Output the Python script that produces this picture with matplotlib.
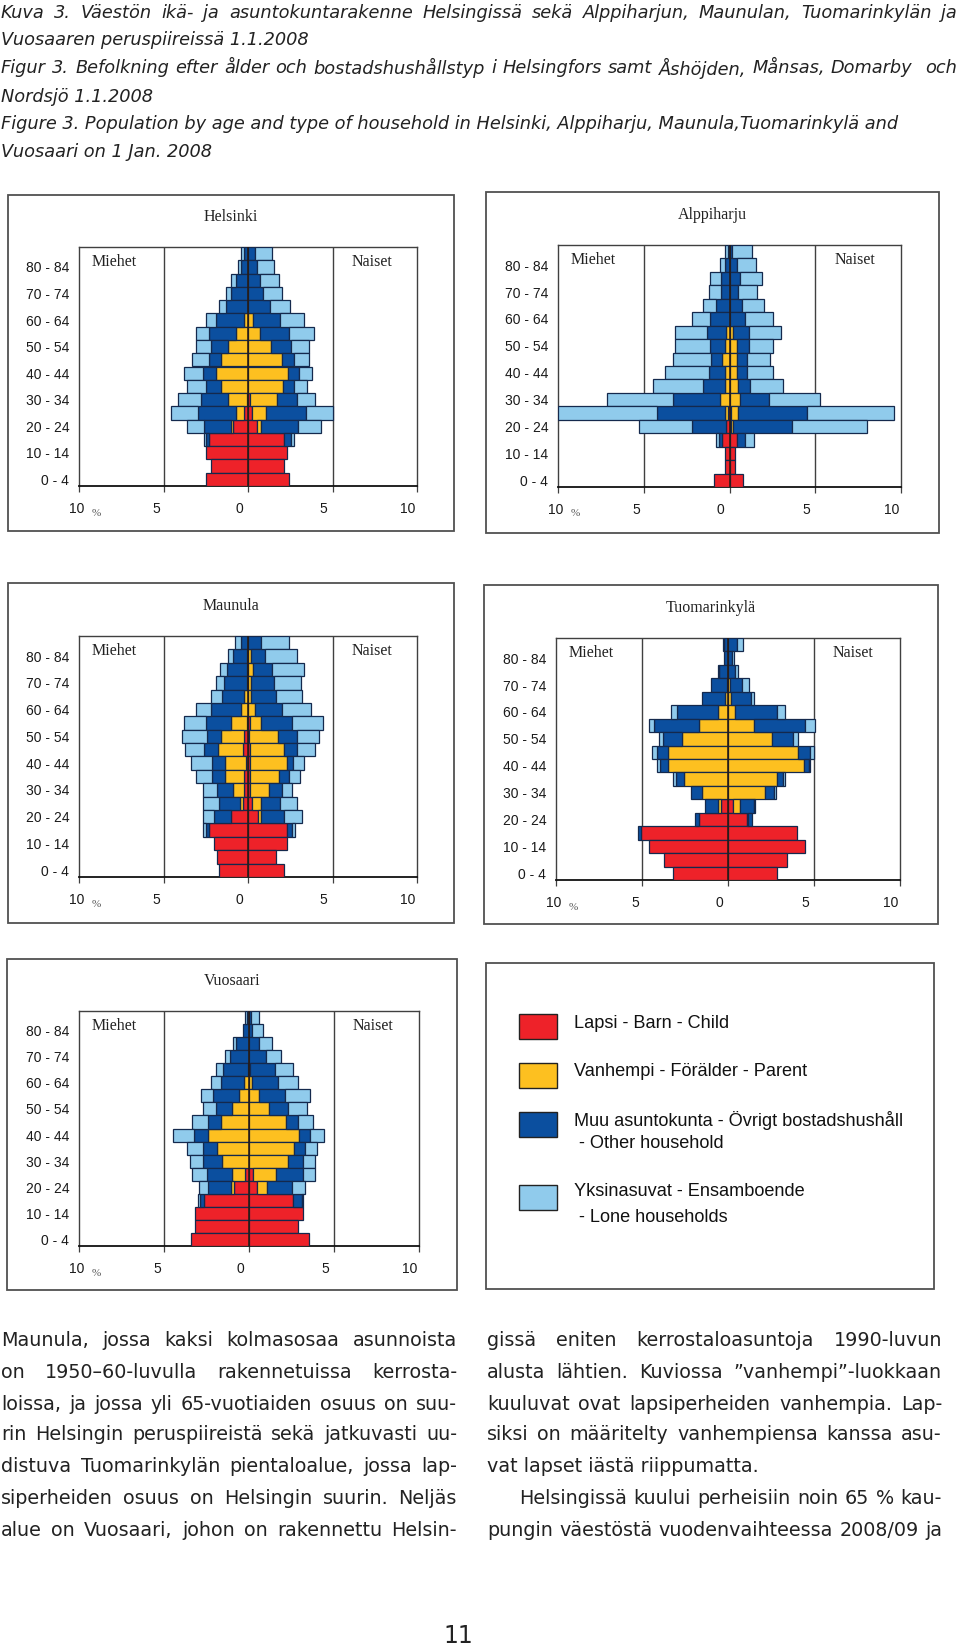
import numpy as np
import matplotlib
matplotlib.use('Agg')
import matplotlib.pyplot as plt
from matplotlib.patches import Rectangle

# age groups from top row to bottom row, only every other one is labelled
ages = ['85 -', '80 - 84', '75 - 79', '70 - 74', '65 - 69', '60 - 64', '55 - 59', '50 - 54', '45 - 49',
        '40 - 44', '35 - 39', '30 - 34', '25 - 29', '20 - 24', '15 - 19', '10 - 14', '5 - 9', '0 - 4']
age_shown = ['80 - 84', '70 - 74', '60 - 64', '50 - 54', '40 - 44', '30 - 34', '20 - 24', '10 - 14', '0 - 4']
x_ticks = [-10, -5, 0, 5, 10]
# tick labels in the original sit a bit left of the ticks
tick_shift = [-2, -7, -9, -9, -9]

household = ['Lapsi - Barn - Child', 'Vanhempi - Förälder - Parent',
             'Muu asuntokunta - Övrigt bostadshushåll\n - Other household',
             'Yksinasuvat - Ensamboende\n - Lone households']
colors = ['#ee2229', '#fdc020', '#0b4f9f', '#90cbec']

# running totals in % from the centre outwards: child, +parent, +other, +lone
hel_m_child = [0, 0, 0, 0, 0, 0, 0, 0, 0, 0, 0, .08, .22, .89, 2.29, 2.49, 2.17, 2.49]
hel_m_parent = [0, 0, 0, 0, 0, .26, .71, 1.21, 1.58, 1.88, 1.58, 1.21, .71, 1.01, 2.29, 2.49, 2.17, 2.49]
hel_m_other = [.22, .43, .71, 1.03, 1.30, 1.90, 2.31, 2.19, 2.31, 2.69, 2.49, 2.81, 2.98, 2.61, 2.49, 2.49, 2.17, 2.49]
hel_m_lone = [.43, .59, .99, 1.28, 1.70, 2.49, 3.10, 3.10, 3.32, 3.77, 3.62, 4.13, 4.58, 3.62, 2.61, 2.49, 2.17, 2.49]
hel_f_child = [0, 0, 0, 0, 0, 0, 0, 0, 0, 0, 0, .12, .24, .51, 2.11, 2.31, 2.11, 2.41]
hel_f_parent = [0, 0, 0, 0, 0, .28, .71, 1.38, 2.02, 2.39, 2.09, 1.70, 1.09, .79, 2.11, 2.31, 2.11, 2.41]
hel_f_other = [.41, .51, .71, .87, 1.30, 1.90, 2.41, 2.53, 2.71, 3.00, 2.71, 2.91, 3.42, 2.98, 2.55, 2.31, 2.11, 2.41]
hel_f_lone = [1.40, 1.52, 1.82, 2.02, 2.51, 3.32, 3.89, 3.60, 3.60, 3.79, 3.48, 3.99, 5.00, 4.31, 2.71, 2.31, 2.11, 2.41]

alp_m_child = [0, 0, 0, 0, 0, 0, 0, 0, 0, 0, 0, 0, .08, .21, .41, .29, .29, .89]
alp_m_parent = [0, 0, 0, 0, 0, 0, .19, .29, .41, .29, .29, .54, .29, .21, .41, .29, .29, .89]
alp_m_other = [.08, .29, .50, .50, .81, 1.11, 1.30, 1.11, 1.05, 1.20, 1.57, 3.32, 4.21, 2.19, .60, .29, .29, .89]
alp_m_lone = [.29, .58, 1.11, 1.20, 1.57, 2.21, 3.16, 3.16, 3.32, 3.78, 4.48, 7.16, 9.99, 5.28, .81, .29, .29, .89]
alp_f_child = [0, 0, 0, 0, 0, 0, 0, 0, 0, 0, 0, 0, .08, .08, .41, .31, .31, .81]
alp_f_parent = [0, 0, 0, 0, 0, 0, .21, .41, .41, .41, .52, .60, .52, .21, .41, .31, .31, .81]
alp_f_other = [.12, .43, .60, .52, .72, .89, 1.11, 1.11, 1.01, 1.01, 1.22, 2.33, 4.50, 3.63, .89, .31, .31, .81]
alp_f_lone = [1.30, 1.53, 1.88, 1.59, 2.04, 2.52, 2.99, 2.52, 2.39, 2.52, 3.12, 5.30, 9.60, 7.99, 1.40, .31, .31, .81]

mau_m_child = [0, 0, 0, 0, 0, 0, .06, .22, .30, .10, .22, .22, .30, .99, 2.29, 2.04, 1.82, 1.70]
mau_m_parent = [0, .08, .06, .08, .22, .42, 1.01, 1.60, 1.80, 1.38, 1.36, .87, .47, .99, 2.29, 2.04, 1.82, 1.70]
mau_m_other = [.43, .91, 1.25, 1.40, 1.52, 2.19, 2.49, 2.41, 2.63, 2.11, 2.11, 1.82, 1.70, 2.02, 2.49, 2.04, 1.82, 1.70]
mau_m_lone = [.75, 1.21, 1.64, 1.90, 2.19, 3.10, 3.79, 3.91, 3.72, 3.40, 3.10, 2.69, 2.69, 2.69, 2.65, 2.04, 1.82, 1.70]
mau_f_child = [0, 0, 0, 0, 0, 0, .10, .04, .10, .10, .10, .10, .22, .57, 2.29, 2.29, 1.68, 2.11]
mau_f_parent = [0, .20, .28, .20, .20, .40, .79, 1.78, 2.15, 2.29, 1.86, 1.26, .77, .77, 2.29, 2.29, 1.68, 2.11]
mau_f_other = [.79, 1.01, 1.40, 1.52, 1.68, 2.02, 2.63, 2.91, 2.91, 2.69, 2.41, 2.02, 1.90, 2.15, 2.61, 2.29, 1.68, 2.11]
mau_f_lone = [2.41, 2.87, 3.32, 3.16, 3.18, 3.70, 4.41, 4.19, 3.99, 3.32, 3.10, 2.59, 2.89, 3.18, 2.81, 2.29, 1.68, 2.11]

tuo_m_child = [0, 0, 0, 0, 0, 0, 0, 0, 0, 0, 0, 0, .41, 1.67, 5.06, 4.59, 3.70, 3.18]
tuo_m_parent = [0, 0, 0, .08, .19, .58, 1.67, 2.67, 3.47, 3.47, 2.58, 1.51, .58, 1.67, 5.06, 4.59, 3.70, 3.18]
tuo_m_other = [.25, .21, .52, 1.01, 1.51, 2.97, 4.30, 3.78, 4.11, 3.93, 3.00, 2.17, 1.32, 1.92, 5.21, 4.59, 3.70, 3.18]
tuo_m_lone = [.31, .21, .58, 1.01, 1.51, 3.31, 4.59, 3.99, 4.42, 4.11, 3.18, 2.17, 1.32, 1.92, 5.21, 4.59, 3.70, 3.18]
tuo_f_child = [0, 0, 0, 0, 0, 0, 0, 0, 0, 0, 0, 0, .31, 1.10, 3.99, 4.50, 3.41, 2.83]
tuo_f_parent = [0, 0, 0, .10, .19, .39, 1.49, 2.58, 4.09, 4.40, 2.87, 2.17, .70, 1.18, 3.99, 4.50, 3.41, 2.83]
tuo_f_other = [.50, .23, .41, .79, 1.32, 2.83, 4.50, 3.80, 4.79, 4.69, 3.18, 2.69, 1.51, 1.38, 3.99, 4.50, 3.41, 2.83]
tuo_f_lone = [.89, .37, .60, 1.20, 1.51, 3.31, 5.08, 4.09, 4.98, 4.79, 3.31, 2.81, 1.59, 1.38, 3.99, 4.50, 3.41, 2.83]

vuo_m_child = [0, 0, 0, 0, 0, 0, 0, 0, 0, 0, 0, 0, .22, .88, 2.65, 3.20, 3.18, 3.42]
vuo_m_parent = [0, 0, 0, 0, .06, .29, .57, 1.00, 1.67, 2.40, 1.89, 1.61, 1.00, 1.08, 2.65, 3.20, 3.18, 3.42]
vuo_m_other = [.12, .33, .77, 1.12, 1.55, 1.63, 2.10, 1.93, 2.42, 3.22, 2.69, 2.69, 2.46, 2.42, 2.89, 3.20, 3.18, 3.42]
vuo_m_lone = [.22, .33, .92, 1.43, 1.94, 2.24, 2.83, 2.69, 3.34, 4.46, 3.63, 3.50, 3.34, 2.97, 3.01, 3.20, 3.18, 3.42]
vuo_f_child = [0, 0, 0, 0, 0, 0, 0, 0, 0, 0, 0, 0, .22, .49, 2.57, 3.18, 2.87, 3.50]
vuo_f_parent = [0, 0, 0, 0, .06, .20, .57, 1.18, 2.16, 2.97, 2.67, 2.30, 1.59, 1.08, 2.57, 3.18, 2.87, 3.50]
vuo_f_other = [.10, .20, .57, 1.00, 1.53, 1.69, 2.12, 2.28, 2.87, 3.61, 3.30, 3.18, 3.18, 2.53, 3.10, 3.18, 2.87, 3.50]
vuo_f_lone = [.57, .84, 1.38, 1.87, 2.61, 2.89, 3.61, 3.40, 3.79, 4.40, 3.99, 3.89, 3.89, 3.30, 3.18, 3.18, 2.87, 3.50]

caption = [
    ('Kuva 3. Väestön ikä- ja asuntokuntarakenne Helsingissä sekä Alppiharjun, Maunulan, Tuomarinkylän ja', 13, 957),
    ('Vuosaaren peruspiireissä 1.1.2008', 40, None),
    ('Figur 3. Befolkning efter ålder och bostadshushållstyp i Helsingfors samt Åshöjden, Månsas, Domarby  och', 68, 957),
    ('Nordsjö 1.1.2008', 97, None),
    ('Figure 3. Population by age and type of household in Helsinki, Alppiharju, Maunula,Tuomarinkylä and', 124, None),
    ('Vuosaari on 1 Jan. 2008', 152, None),
]
body_y = [1341, 1372, 1404, 1435, 1467, 1498, 1530]
body_left = ['Maunula, jossa kaksi kolmasosaa asunnoista',
             'on 1950–60-luvulla rakennetuissa kerrosta-',
             'loissa, ja jossa yli 65-vuotiaiden osuus on suu-',
             'rin Helsingin peruspiireistä sekä jatkuvasti uu-',
             'distuva Tuomarinkylän pientaloalue, jossa lap-',
             'siperheiden osuus on Helsingin suurin. Neljäs',
             'alue on Vuosaari, johon on rakennettu Helsin-']
body_right = ['gissä eniten kerrostaloasuntoja 1990-luvun',
              'alusta lähtien. Kuviossa ”vanhempi”-luokkaan',
              'kuuluvat ovat lapsiperheiden vanhempia. Lap-',
              'siksi on määritelty vanhempiensa kanssa asu-',
              'vat lapset iästä riippumatta.',
              'Helsingissä kuului perheisiin noin 65 % kau-',
              'pungin väestöstä vuodenvaihteessa 2008/09 ja']

W, H = 960, 1648
EDGE = '#14294d'
FRAME = '#505050'

fig = plt.figure(figsize=(W / 100, H / 100), dpi=100, facecolor='white')
page = fig.add_axes([0, 0, 1, 1])
page.set_xlim(0, W)
page.set_ylim(H, 0)
page.axis('off')


def frame(x0, y0, x1, y1):
    page.add_patch(Rectangle((x0, y0), x1 - x0, y1 - y0, fc='white', ec=FRAME, lw=1.3))


def justified(text, x0, y, x1, min_gap=4, **kw):
    # word by word, gaps stretched so that the line ends at x1
    rend = fig.canvas.get_renderer()
    words = text.split(' ')
    items = [page.text(x0, y, w, va='center', ha='left', **kw) for w in words]
    for _ in range(4):
        widths = [t.get_window_extent(rend).width if t.get_text() else 0 for t in items]
        gap = (x1 - x0 - sum(widths)) / (len(words) - 1)
        if gap >= min_gap:
            break
        # too long at this size, the original is set tighter on such lines
        scale = (x1 - x0 - min_gap * (len(words) - 1)) / sum(widths)
        for t in items:
            t.set_fontsize(t.get_fontsize() * scale)
    x = x0
    for t, w in zip(items, widths):
        t.set_x(x)
        x += w + gap


def pyramid(box, fr, name, men, women):
    frame(*fr)
    x0, y0, x1, y1 = box
    ax = fig.add_axes([x0 / W, 1 - y1 / H, (x1 - x0) / W, (y1 - y0) / H])
    y = np.arange(len(ages))
    for side, stack in ((-1, men), (1, women)):
        prev = np.zeros(len(ages))
        for vals, col in zip(stack, colors):
            vals = np.array(vals, dtype=float)
            width = vals - prev
            keep = width > 0
            ax.barh(y[keep], side * width[keep], left=side * prev[keep], height=1.0,
                    color=col, edgecolor=EDGE, linewidth=0.9, zorder=3)
            prev = vals
    ax.set_xlim(-10, 10)
    ax.set_ylim(len(ages) - 0.5, -0.5)
    ax.axvline(0, color='#2a1a10', lw=1.1, zorder=4)
    for g in (-5, 5):
        ax.axvline(g, color='#404040', lw=1.0, zorder=1)
    for s in ax.spines.values():
        s.set_color('#404040')
        s.set_linewidth(1.0)
    ax.spines['bottom'].set_color('#111111')
    ax.spines['bottom'].set_linewidth(1.3)
    ax.set_xticks(x_ticks)
    ax.set_xticklabels([])
    ax.tick_params(axis='x', length=4, width=0.9, color='#404040')
    ax.set_yticks([ages.index(a) for a in age_shown])
    ax.set_yticklabels(age_shown, fontsize=10, family='Liberation Sans', color='#1a1a1a')
    ax.tick_params(axis='y', length=0, pad=7)
    for v, sh in zip(x_ticks, tick_shift):
        ax.annotate(str(abs(v)), xy=(v, 0), xycoords=('data', 'axes fraction'),
                    xytext=(sh, -23), textcoords='offset pixels', ha='center', va='center',
                    fontsize=10, family='Liberation Sans', color='#1a1a1a')
    page.text((fr[0] + fr[2]) / 2, y0 - 30, name, ha='center', va='center',
              fontsize=11.5, family='Liberation Serif', color='#222222')
    ax.annotate('Miehet', xy=(0, 1), xycoords='axes fraction', xytext=(12.5, -15), textcoords='offset pixels',
                ha='left', va='center', fontsize=11.5, family='Liberation Serif', color='#222222', zorder=5)
    ax.annotate('Naiset', xy=(5, 1), xycoords=('data', 'axes fraction'), xytext=(19, -15), textcoords='offset pixels',
                ha='left', va='center', fontsize=11.5, family='Liberation Serif', color='#222222', zorder=5)
    page.text(x0 + 17, y1 + 27, '%', ha='center', va='center',
              fontsize=8, family='Liberation Serif', color='#555555')


for line, y, end in caption:
    kw = dict(fontsize=12.8, family='DejaVu Sans', style='oblique', color='#222222')
    if end:
        justified(line, 1, y, end, min_gap=3, **kw)
    else:
        page.text(1, y, line, va='center', ha='left', **kw)

pyramid((79, 247, 417, 486), (8, 195, 454, 531), 'Helsinki',
        [hel_m_child, hel_m_parent, hel_m_other, hel_m_lone],
        [hel_f_child, hel_f_parent, hel_f_other, hel_f_lone])
pyramid((558, 245, 901, 487), (486, 192, 939, 533), 'Alppiharju',
        [alp_m_child, alp_m_parent, alp_m_other, alp_m_lone],
        [alp_f_child, alp_f_parent, alp_f_other, alp_f_lone])
pyramid((79, 636, 417, 877), (8, 583, 454, 923), 'Maunula',
        [mau_m_child, mau_m_parent, mau_m_other, mau_m_lone],
        [mau_f_child, mau_f_parent, mau_f_other, mau_f_lone])
pyramid((556, 638, 900, 880), (484, 585, 938, 924), 'Tuomarinkylä',
        [tuo_m_child, tuo_m_parent, tuo_m_other, tuo_m_lone],
        [tuo_f_child, tuo_f_parent, tuo_f_other, tuo_f_lone])
pyramid((79, 1011, 419, 1246), (7, 959, 457, 1290), 'Vuosaari',
        [vuo_m_child, vuo_m_parent, vuo_m_other, vuo_m_lone],
        [vuo_f_child, vuo_f_parent, vuo_f_other, vuo_f_lone])

# legend box
frame(486, 963, 934, 1289)
swatch_y = [1014, 1063, 1112, 1185]
label_y = [[1024], [1072], [1120, 1144], [1192, 1217]]
for lab, col, sy, ly in zip(household, colors, swatch_y, label_y):
    page.add_patch(Rectangle((519, sy), 38, 25, fc=col, ec='#222222', lw=1.0))
    for part, yy in zip(lab.split('\n'), ly):
        page.text(574, yy, part, va='center', ha='left', fontsize=13.1,
                  family='Liberation Sans', color='#111111')

body_kw = dict(fontsize=13.8, family='DejaVu Sans', color='#222222')
for i, (line, y) in enumerate(zip(body_left, body_y)):
    justified(line, 1, y, 457, **body_kw)
for i, (line, y) in enumerate(zip(body_right, body_y)):
    if i == 4:
        page.text(487, y, line, va='center', ha='left', **body_kw)
    elif i == 5:
        justified(line, 519, y, 942, **body_kw)
    else:
        justified(line, 487, y, 942, **body_kw)
page.text(458, 1636, '11', ha='center', va='center', fontsize=17, family='DejaVu Sans', color='#222222')

fig.savefig('out.png', dpi=100)
